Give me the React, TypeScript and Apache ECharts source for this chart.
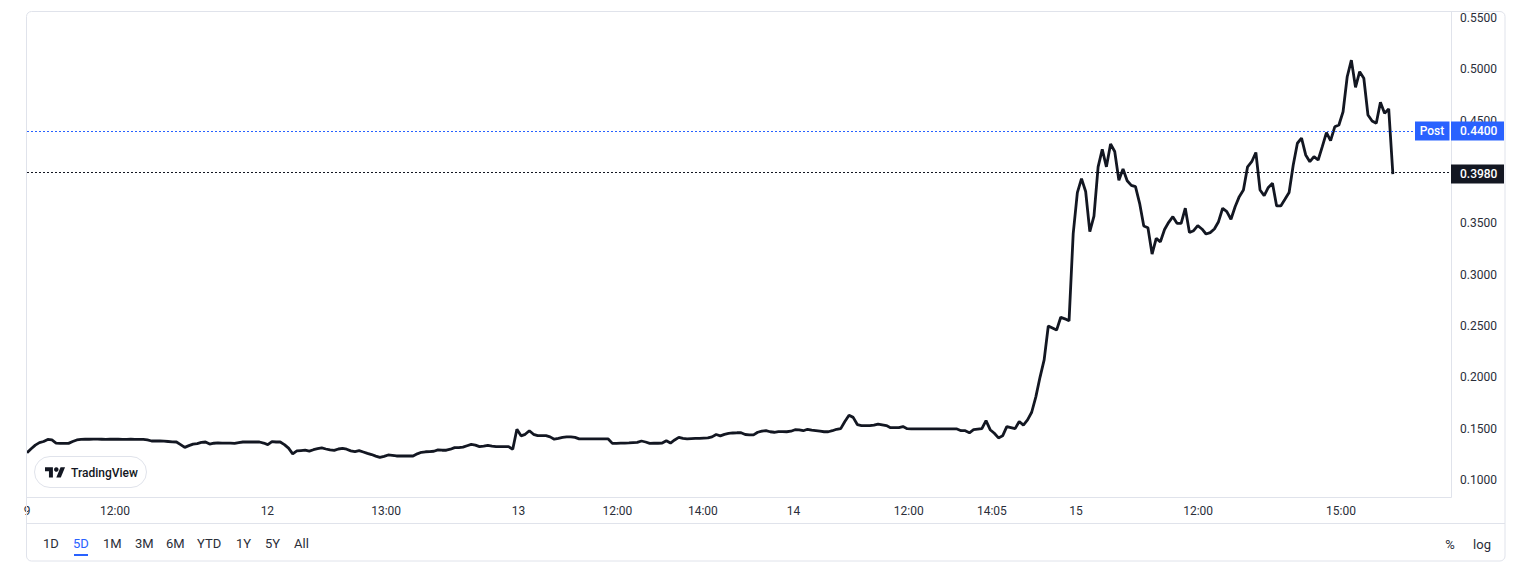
import { useEffect, useRef } from "react";
import * as echarts from "echarts";

// 5-day price series, one value per bar (15-minute bars)
const PRICES: number[] = [
  0.1266, 0.1305, 0.134, 0.1364, 0.1375, 0.1395, 0.139, 0.136, 0.1357, 0.1357,
  0.1357, 0.1375, 0.139, 0.1395, 0.1397, 0.1397, 0.1398, 0.1398, 0.1397, 0.1396,
  0.1397, 0.1398, 0.1397, 0.1396, 0.1396, 0.1397, 0.1396, 0.1395, 0.1395, 0.139,
  0.138, 0.138, 0.138, 0.1378, 0.1375, 0.1372, 0.137, 0.1345, 0.1318, 0.1335,
  0.135, 0.1355, 0.1366, 0.137, 0.135, 0.1358, 0.1362, 0.136, 0.136, 0.136,
  0.1357, 0.1365, 0.137, 0.137, 0.137, 0.137, 0.137, 0.136, 0.1345, 0.1374,
  0.137, 0.137, 0.1345, 0.131, 0.1255, 0.1283, 0.1287, 0.129, 0.1282, 0.1295,
  0.1305, 0.1312, 0.1302, 0.1293, 0.1288, 0.1302, 0.1308, 0.13, 0.1284, 0.1276,
  0.1286, 0.1273, 0.126, 0.1248, 0.1233, 0.122, 0.123, 0.1244, 0.124, 0.1234,
  0.1234, 0.1234, 0.1234, 0.1234, 0.1255, 0.127, 0.1275, 0.1276, 0.128, 0.1293,
  0.129, 0.129, 0.13, 0.1315, 0.1315, 0.132, 0.1334, 0.1347, 0.134, 0.1325,
  0.133, 0.1337, 0.133, 0.1325, 0.1325, 0.1325, 0.1325, 0.13, 0.1494, 0.143,
  0.1445, 0.148, 0.1445, 0.1432, 0.1432, 0.1432, 0.142, 0.1397, 0.1405, 0.1415,
  0.142, 0.142, 0.1415, 0.14, 0.14, 0.14, 0.14, 0.14, 0.14, 0.14,
  0.14, 0.1357, 0.1357, 0.136, 0.136, 0.1362, 0.1365, 0.1367, 0.138, 0.137,
  0.1357, 0.1358, 0.1358, 0.136, 0.1383, 0.136, 0.139, 0.1415, 0.1405, 0.14,
  0.1403, 0.1405, 0.1405, 0.1408, 0.141, 0.142, 0.1443, 0.143, 0.1445, 0.1455,
  0.1458, 0.146, 0.146, 0.1443, 0.144, 0.144, 0.1465, 0.1475, 0.148, 0.147,
  0.1465, 0.1472, 0.1472, 0.147, 0.1475, 0.149, 0.1488, 0.148, 0.1494, 0.1485,
  0.148, 0.1475, 0.147, 0.147, 0.148, 0.1494, 0.15, 0.157, 0.163, 0.161,
  0.154, 0.153, 0.1529, 0.1529, 0.1535, 0.1545, 0.1538, 0.153, 0.151, 0.151,
  0.151, 0.152, 0.15, 0.1497, 0.1497, 0.1497, 0.1497, 0.1497, 0.1497, 0.1497,
  0.1497, 0.1497, 0.1497, 0.1497, 0.1497, 0.148, 0.148, 0.146, 0.149, 0.1495,
  0.15, 0.1578, 0.149, 0.1455, 0.141, 0.143, 0.152, 0.151, 0.15, 0.157,
  0.1535, 0.1585, 0.166, 0.181, 0.2, 0.217, 0.25, 0.248, 0.246, 0.2585,
  0.257, 0.255, 0.34, 0.38, 0.3935, 0.381, 0.342, 0.357, 0.405, 0.422,
  0.405, 0.4273, 0.42, 0.392, 0.403, 0.3915, 0.387, 0.3857, 0.3695, 0.3474,
  0.3457, 0.32, 0.3354, 0.332, 0.344, 0.351, 0.3565, 0.35, 0.35, 0.3647,
  0.341, 0.3428, 0.3477, 0.3445, 0.3396, 0.341, 0.3445, 0.3516, 0.3647, 0.3614,
  0.354, 0.3662, 0.376, 0.3825, 0.405, 0.41, 0.419, 0.3825, 0.377, 0.385,
  0.389, 0.367, 0.367, 0.3734, 0.38, 0.4068, 0.428, 0.433, 0.4166, 0.41,
  0.415, 0.4117, 0.4247, 0.4383, 0.4305, 0.444, 0.4458, 0.4587, 0.4928, 0.509,
  0.4825, 0.4977, 0.4913, 0.4555, 0.4497, 0.4474, 0.4679, 0.4572, 0.4614, 0.398,
];

// time-axis labels, placed at bar positions
const TICK_POS: number[] = [0, 21.2, 57.9, 86.5, 118.4, 142.2, 162.8, 184.6, 212.4, 232.4, 252.7, 282.1, 316.5];
const TICK_LABELS: string[] = ["9", "12:00", "12", "13:00", "13", "12:00", "14:00", "14", "12:00", "14:05", "15", "12:00", "15:00"];

const Y_MIN = 0.1;
const Y_MAX = 0.55;
const Y_STEP = 0.05;
const X_MAX = 343;

const LAST_PRICE = 0.398;
const POST_PRICE = 0.44;
const POST_LABEL = "Post";

const RANGES: string[] = ["1D", "5D", "1M", "3M", "6M", "YTD", "1Y", "5Y", "All"];
const ACTIVE_RANGE = "5D";

const FONT = "Roboto, 'Noto Sans', sans-serif";
const TEXT = "#131722";
const AXIS_TEXT = "#2a2e39";
const BORDER = "#e0e3eb";
const BLUE = "#2962ff";

function buildGraphics(yPost: number, yLast: number) {
  const rangeX = [43, 73, 103, 135, 166, 197, 236, 265, 294];
  const els: any[] = [
    // outer rounded frame
    { type: "rect", z: 5, silent: true, shape: { x: 26.5, y: 11.5, width: 1478.5, height: 549.5, r: 5 }, style: { fill: "none", stroke: BORDER, lineWidth: 1 } },
    { type: "line", z: 5, silent: true, shape: { x1: 1451.5, y1: 11.5, x2: 1451.5, y2: 497.5 }, style: { stroke: BORDER, lineWidth: 1 } },
    { type: "line", z: 5, silent: true, shape: { x1: 26.5, y1: 497.5, x2: 1451.5, y2: 497.5 }, style: { stroke: BORDER, lineWidth: 1 } },
    { type: "line", z: 5, silent: true, shape: { x1: 26.5, y1: 523.5, x2: 1505, y2: 523.5 }, style: { stroke: BORDER, lineWidth: 1 } },
    // TradingView badge
    { type: "rect", z: 6, silent: true, shape: { x: 34.5, y: 456.5, width: 112, height: 31, r: 15.5 }, style: { fill: "#ffffff", stroke: BORDER, lineWidth: 1 } },
    { type: "polygon", z: 8, silent: true, x: 45, y: 465, scaleX: 0.565, scaleY: 0.565, shape: { points: [[0, 4], [14, 4], [14, 22], [7, 22], [7, 11], [0, 11]] }, style: { fill: TEXT } },
    { type: "polygon", z: 8, silent: true, x: 45, y: 465, scaleX: 0.565, scaleY: 0.565, shape: { points: [[20, 22], [27.5, 4], [35.5, 4], [28, 22]] }, style: { fill: TEXT } },
    { type: "circle", z: 8, silent: true, x: 45, y: 465, scaleX: 0.565, scaleY: 0.565, shape: { cx: 20, cy: 8, r: 4 }, style: { fill: TEXT } },
    { type: "text", z: 8, silent: true, style: { text: "TradingView", x: 71, y: 472.5, fill: TEXT, font: `500 12px ${FONT}`, textAlign: "left", textVerticalAlign: "middle", align: "left", verticalAlign: "middle" } },
    // price labels
    { type: "rect", z: 50, silent: true, shape: { x: 1415, y: yPost - 9.5, width: 34.5, height: 19 }, style: { fill: BLUE } },
    { type: "text", z: 51, silent: true, style: { text: POST_LABEL, x: 1432, y: yPost, fill: "#ffffff", font: `500 12px ${FONT}`, textAlign: "center", textVerticalAlign: "middle", align: "center", verticalAlign: "middle" } },
    { type: "rect", z: 50, silent: true, shape: { x: 1451, y: yPost - 9.5, width: 53, height: 19 }, style: { fill: BLUE } },
    { type: "text", z: 51, silent: true, style: { text: POST_PRICE.toFixed(4), x: 1460, y: yPost, fill: "#ffffff", font: `500 12px ${FONT}`, textAlign: "left", textVerticalAlign: "middle", align: "left", verticalAlign: "middle" } },
    { type: "rect", z: 50, silent: true, shape: { x: 1451, y: yLast - 9.5, width: 53, height: 19 }, style: { fill: TEXT } },
    { type: "text", z: 51, silent: true, style: { text: LAST_PRICE.toFixed(4), x: 1460, y: yLast, fill: "#ffffff", font: `500 12px ${FONT}`, textAlign: "left", textVerticalAlign: "middle", align: "left", verticalAlign: "middle" } },
    // bottom-right toggles
    { type: "text", z: 7, silent: true, style: { text: "%", x: 1450, y: 544, fill: AXIS_TEXT, font: `13px ${FONT}`, textAlign: "center", textVerticalAlign: "middle", align: "center", verticalAlign: "middle" } },
    { type: "text", z: 7, silent: true, style: { text: "log", x: 1482, y: 544, fill: AXIS_TEXT, font: `13px ${FONT}`, textAlign: "center", textVerticalAlign: "middle", align: "center", verticalAlign: "middle" } },
  ];
  RANGES.forEach((r, i) => {
    const active = r === ACTIVE_RANGE;
    els.push({ type: "text", z: 7, silent: true, style: { text: r, x: rangeX[i], y: 543.5, fill: active ? BLUE : AXIS_TEXT, font: `13px ${FONT}`, textAlign: "left", textVerticalAlign: "middle", align: "left", verticalAlign: "middle" } });
    if (active) {
      els.push({ type: "rect", z: 7, silent: true, shape: { x: rangeX[i] + 1, y: 554, width: 14, height: 2 }, style: { fill: BLUE } });
    }
  });
  return els;
}

export default function App() {
  const ref = useRef<HTMLDivElement>(null);
  useEffect(() => {
    if (!ref.current) return;
    const chart = echarts.init(ref.current, null, { renderer: "svg", width: 1533, height: 580 });
    chart.setOption({
      animation: false,
      backgroundColor: "#ffffff",
      textStyle: { fontFamily: FONT },
      grid: { left: 27, right: 82, top: 18, bottom: 100, containLabel: false },
      xAxis: {
        type: "value",
        min: 0,
        max: X_MAX,
        axisLine: { show: false },
        axisTick: { show: false },
        splitLine: { show: false },
        axisLabel: {
          customValues: TICK_POS,
          margin: 25,
          color: AXIS_TEXT,
          fontSize: 12,
          fontFamily: FONT,
          formatter: (v: number) => {
            const k = TICK_POS.indexOf(v);
            return k >= 0 ? TICK_LABELS[k] : "";
          },
        },
      },
      yAxis: {
        type: "value",
        position: "right",
        min: Y_MIN,
        max: Y_MAX,
        interval: Y_STEP,
        axisLine: { show: false },
        axisTick: { show: false },
        splitLine: { show: false },
        axisLabel: {
          margin: 9,
          color: AXIS_TEXT,
          fontSize: 12,
          fontFamily: FONT,
          formatter: (v: number) => v.toFixed(4),
        },
      },
      series: [
        {
          type: "line",
          data: PRICES.map((v, i) => [i, v]),
          showSymbol: false,
          symbol: "none",
          lineStyle: { color: TEXT, width: 2.8 },
          z: 3,
          markLine: {
            silent: true,
            symbol: "none",
            label: { show: false },
            lineStyle: { type: [2, 2], width: 1 },
            data: [
              { yAxis: LAST_PRICE, lineStyle: { color: TEXT, type: [2, 2], width: 1 } },
              { yAxis: POST_PRICE, lineStyle: { color: BLUE, type: [2, 2], width: 1 } },
            ],
          },
        },
      ],
    });
    const yPost = chart.convertToPixel({ yAxisIndex: 0 }, POST_PRICE) as number;
    const yLast = chart.convertToPixel({ yAxisIndex: 0 }, LAST_PRICE) as number;
    chart.setOption({ graphic: buildGraphics(yPost, yLast) });
    return () => chart.dispose();
  }, []);
  return (
    <div
      ref={ref}
      style={{ position: "absolute", left: 0, top: 0, width: 1533, height: 580, background: "#ffffff" }}
    />
  );
}
